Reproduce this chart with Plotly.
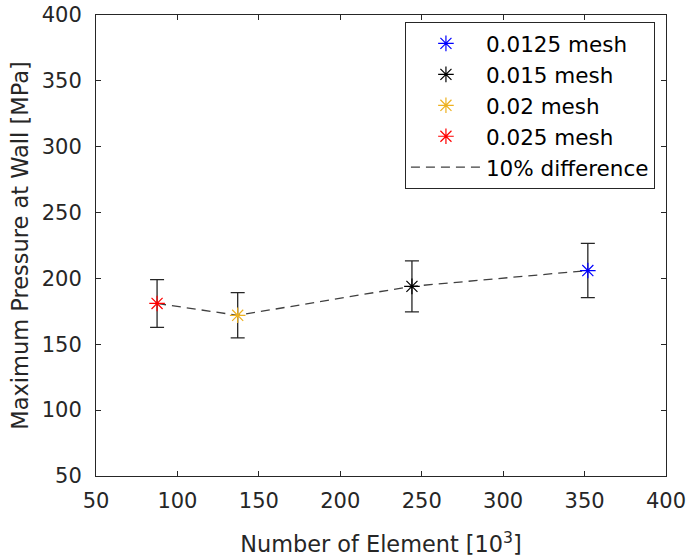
import plotly.graph_objects as go

# Mesh study: element count (thousands) vs maximum wall pressure (MPa)
mesh_names = ["0.0125 mesh", "0.015 mesh", "0.02 mesh", "0.025 mesh"]
elements_k = [352, 244, 137, 87.5]
max_pressure = [206, 194, 172, 181]
mesh_colors = ["#0000FF", "#000000", "#EDB120", "#FF0000"]
diff_fraction = 0.10

x_ticks = [50, 100, 150, 200, 250, 300, 350, 400]
y_ticks = [50, 100, 150, 200, 250, 300, 350, 400]

font_family = "DejaVu Sans, sans-serif"
axis_color = "#262626"

fig = go.Figure()

# Dashed trend line through the points, sorted by element count, with ±10% bars
order = sorted(range(len(elements_k)), key=lambda i: elements_k[i])
line_x = [elements_k[i] for i in order]
line_y = [max_pressure[i] for i in order]
fig.add_trace(go.Scatter(
    x=line_x, y=line_y, mode="lines", name="10% difference",
    line=dict(color="#404040", width=1.3, dash="9px,6px"),
    error_y=dict(type="data", array=[diff_fraction * v for v in line_y],
                 visible=True, color="#262626", thickness=1.3, width=7),
    legendrank=1005,
))

# One asterisk marker per mesh size
for k, (name, xv, yv, col) in enumerate(zip(mesh_names, elements_k, max_pressure, mesh_colors)):
    fig.add_trace(go.Scatter(
        x=[xv], y=[yv], mode="markers", name=name,
        marker=dict(symbol="asterisk-open", size=13, color=col,
                    line=dict(color=col, width=1.2)),
        legendrank=1000 + k,
    ))

axis_common = dict(
    showgrid=False, zeroline=False, showline=True, linecolor=axis_color,
    linewidth=1, mirror="ticks", ticks="inside", ticklen=5, tickcolor=axis_color,
    tickfont=dict(family=font_family, size=21, color=axis_color),
    automargin=False,
)

fig.update_xaxes(
    range=[50, 400], tickvals=x_ticks, ticktext=[str(t) for t in x_ticks],
    ticklabelstandoff=6,
    title=dict(text="Number of Element [10<sup>3</sup>]", standoff=24,
               font=dict(family=font_family, size=22.4, color=axis_color)),
    **axis_common,
)
fig.update_yaxes(
    range=[50, 400], tickvals=y_ticks, ticktext=[str(t) for t in y_ticks],
    ticklabelstandoff=9,
    title=dict(text="Maximum Pressure at Wall [MPa]", standoff=6,
               font=dict(family=font_family, size=22.5, color=axis_color)),
    **axis_common,
)

fig.update_layout(
    width=687, height=560,
    margin=dict(l=96, r=21, t=15, b=84),
    paper_bgcolor="white", plot_bgcolor="white",
    font=dict(family=font_family, color=axis_color),
    legend=dict(
        x=0.542, y=0.985, xanchor="left", yanchor="top",
        bgcolor="white", bordercolor=axis_color, borderwidth=1,
        font=dict(family=font_family, size=21.5, color="#000000"),
        itemwidth=70, traceorder="normal",
    ),
)

fig.write_html("out.html")
